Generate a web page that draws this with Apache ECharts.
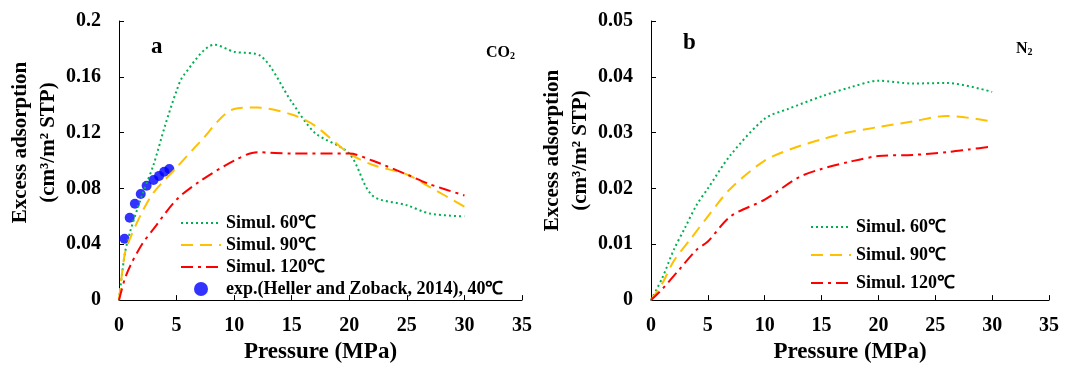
<!DOCTYPE html>
<html>
<head>
<meta charset="utf-8">
<script src="https://cdn.jsdelivr.net/npm/echarts@6/dist/echarts.min.js"></script>
<style>
  html, body { margin: 0; padding: 0; background: #fff; }
  #chart { width: 1071px; height: 369px; }
</style>
</head>
<body>
<div id="chart"></div>
<script>
// panel a: CO2 (pressure MPa, excess adsorption)
const co2Sim60 = [[0,0],[0.5,0.033],[1,0.05],[2,0.075],[3,0.097],[4,0.125],[5,0.15],[5.6,0.161],[8.3,0.183],[10,0.178],[12.3,0.175],[15,0.142],[17,0.12],[20,0.105],[22,0.075],[25,0.068],[27,0.062],[30,0.06]];
const co2Sim90 = [[0,0],[0.5,0.033],[1,0.045],[2,0.063],[3,0.077],[5,0.095],[7,0.113],[10,0.137],[12,0.138],[15,0.133],[17,0.125],[20,0.105],[22,0.097],[25,0.09],[27,0.081],[30,0.067]];
const co2Sim120 = [[0,0],[0.5,0.015],[1,0.025],[2,0.04],[3,0.051],[5,0.072],[7,0.085],[10,0.1],[12,0.106],[15,0.105],[20,0.105],[22,0.1],[25,0.09],[27,0.083],[30,0.075]];
const co2Exp40 = [[0.48,0.044],[0.93,0.059],[1.38,0.069],[1.89,0.076],[2.4,0.082],[3.0,0.086],[3.48,0.089],[3.93,0.092],[4.37,0.094]];

// panel b: N2
const n2Sim60 = [[0,0],[1,0.004],[2,0.009],[3,0.013],[4,0.017],[5,0.02],[7,0.026],[10,0.0325],[12,0.0342],[15,0.0365],[17.5,0.0381],[20,0.0393],[23,0.0388],[26,0.0389],[30,0.0373]];
const n2Sim90 = [[0,0],[1,0.003],[2,0.007],[3.5,0.011],[5,0.015],[7,0.02],[10,0.025],[12.5,0.0272],[15,0.0288],[17.5,0.0301],[20,0.031],[23,0.032],[26,0.033],[30,0.032]];
const n2Sim120 = [[0,0],[1,0.002],[2.5,0.0055],[4,0.009],[5,0.0105],[7,0.015],[10,0.018],[13,0.022],[15,0.0235],[17.5,0.0248],[20,0.0258],[23,0.026],[26,0.0265],[28,0.027],[30,0.0275]];

const names = ["Simul. 60℃", "Simul. 90℃", "Simul. 120℃", "exp.(Heller and Zoback, 2014), 40℃"];

const serif = "'Liberation Serif', 'Times New Roman', serif";
const lineStyles = [
  { color: "#00B050", width: 2, type: [2, 3] },
  { color: "#FFC000", width: 2, type: [12, 7] },
  { color: "#FF0000", width: 2, type: [12, 5, 3, 5] },
];

function xAxisFor(idx) {
  return {
    gridIndex: idx, type: "value", min: 0, max: 35, interval: 5,
    name: "Pressure (MPa)", nameLocation: "middle", nameGap: 35,
    nameTextStyle: { fontFamily: serif, fontWeight: "bold", fontSize: 23, color: "#000" },
    axisLine: { lineStyle: { color: "#000", width: 1 } },
    axisTick: { inside: true, length: 5, lineStyle: { color: "#000" } },
    axisLabel: { fontFamily: serif, fontWeight: "bold", fontSize: 20, color: "#000", margin: 16 },
    splitLine: { show: false },
  };
}
function yAxisFor(idx, max, interval, gap, lift) {
  return {
    gridIndex: idx, type: "value", min: 0, max: max, interval: interval,
    name: "Excess adsorption\n(cm³/m² STP)", nameLocation: "middle", nameGap: gap, nameRotate: 90,
    nameTextStyle: { fontFamily: serif, fontWeight: "bold", fontSize: 21, color: "#000", lineHeight: 28,
      padding: [0, 0, 0, lift] },
    axisLine: { show: true, lineStyle: { color: "#000", width: 1 } },
    axisTick: { show: true, inside: true, length: 5, lineStyle: { color: "#000" } },
    axisLabel: { fontFamily: serif, fontWeight: "bold", fontSize: 20, color: "#000", margin: 18 },
    splitLine: { show: false },
  };
}
function lineSeries(name, data, k, idx) {
  return {
    name: name, type: "line", xAxisIndex: idx, yAxisIndex: idx,
    data: data, smooth: 0.3, symbol: "none",
    lineStyle: lineStyles[k], itemStyle: { color: lineStyles[k].color },
  };
}
// line entries show only the line sample, no marker
const lineItem = (n) => ({ name: n, itemStyle: { opacity: 0 } });

const chart = echarts.init(document.getElementById("chart"));
const legendText = { fontFamily: serif, fontWeight: "bold", fontSize: 18, color: "#000" };
const sub = () => ({ rich: {
  m: { fontFamily: serif, fontWeight: "bold", fontSize: 16, color: "#000" },
  s: { fontFamily: serif, fontWeight: "bold", fontSize: 10, color: "#000", verticalAlign: "bottom", padding: [6, 0, 0, 0] } } });
chart.setOption({
  animation: false,
  title: [
    { text: "a", left: 146, top: 31, textStyle: { fontFamily: serif, fontWeight: "bold", fontSize: 23, color: "#000" } },
    { text: "b", left: 678, top: 27, textStyle: { fontFamily: serif, fontWeight: "bold", fontSize: 23, color: "#000" } },
    { text: "{m|CO}{s|2}", left: 481, top: 40, textStyle: sub() },
    { text: "{m|N}{s|2}", left: 1011, top: 36, textStyle: sub() },
  ],
  grid: [
    { left: 119, top: 21, width: 403, height: 287 },
    { left: 651, top: 21, width: 398, height: 283 },
  ],
  legend: [
    { data: [lineItem(names[0]), lineItem(names[1]), lineItem(names[2]), names[3]],
      orient: "vertical", left: 175, top: 209, itemWidth: 40, itemHeight: 14, itemGap: 4,
      textStyle: legendText, selectedMode: false },
    { data: [lineItem(names[0]), lineItem(names[1]), lineItem(names[2])],
      orient: "vertical", left: 805, top: 213, itemWidth: 40, itemHeight: 14, itemGap: 10,
      textStyle: legendText, selectedMode: false },
  ],
  xAxis: [xAxisFor(0), xAxisFor(1)],
  yAxis: [yAxisFor(0, 0.2, 0.04, 53, 36), yAxisFor(1, 0.05, 0.01, 42, 20)],
  series: [
    lineSeries(names[0], co2Sim60, 0, 0),
    lineSeries(names[1], co2Sim90, 1, 0),
    lineSeries(names[2], co2Sim120, 2, 0),
    { name: names[3], type: "scatter", xAxisIndex: 0, yAxisIndex: 0, data: co2Exp40,
      symbol: "circle", symbolSize: 10, itemStyle: { color: "#0000FF" } },
    lineSeries(names[0], n2Sim60, 0, 1),
    lineSeries(names[1], n2Sim90, 1, 1),
    lineSeries(names[2], n2Sim120, 2, 1),
  ],
});
</script>
</body>
</html>
